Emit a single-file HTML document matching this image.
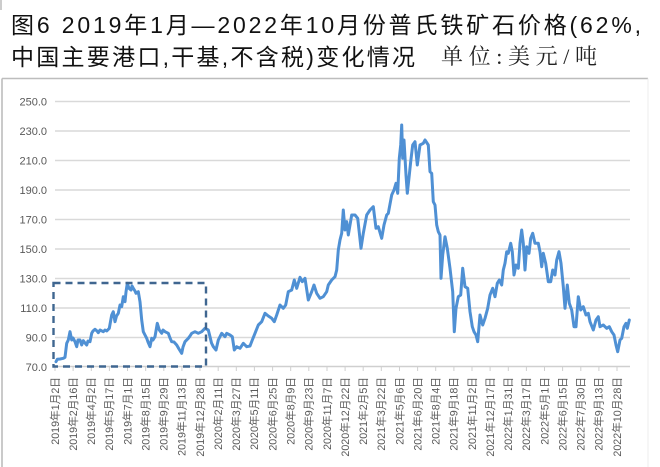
<!DOCTYPE html>
<html>
<head>
<meta charset="utf-8">
<style>
  html,body{margin:0;padding:0;background:#fff;}
  body{width:660px;height:467px;overflow:hidden;}
  svg{display:block;}
  .ttl{font-family:"Liberation Sans","Noto Sans CJK SC",sans-serif;fill:#111;}
  .unit{font-family:"Liberation Serif","Noto Serif CJK SC",serif;fill:#222;}
  .yl{font-family:"Liberation Sans",sans-serif;font-size:11px;fill:#595959;}
  .xl{font-family:"Liberation Sans","Noto Sans CJK SC",sans-serif;font-size:10.7px;fill:#5a5a5a;}
</style>
</head>
<body>
<svg width="660" height="467" viewBox="0 0 660 467" xmlns="http://www.w3.org/2000/svg">
  <rect x="0" y="0" width="660" height="467" fill="#fff"/>
  <line x1="1" y1="0" x2="1" y2="10" stroke="#bbb" stroke-width="1.5"/>

  <!-- Title -->
  <text class="ttl" x="11" y="33" font-size="23" textLength="630" lengthAdjust="spacing">图6 2019年1月—2022年10月份普氏铁矿石价格(62%,</text>
  <text class="ttl" x="11" y="65" font-size="23" textLength="404" lengthAdjust="spacing">中国主要港口,干基,不含税)变化情况</text>
  <text class="unit" x="441" y="64" font-size="22" textLength="156" lengthAdjust="spacing">单位:美元/吨</text>

  <!-- chart frame -->
  <line x1="2" y1="78.5" x2="648" y2="78.5" stroke="#bdbdbd" stroke-width="1.6"/>
  <line x1="2" y1="78.5" x2="2" y2="467" stroke="#bdbdbd" stroke-width="1.6"/>
  <line x1="648" y1="78.5" x2="648" y2="467" stroke="#ececec" stroke-width="1"/>

  <!-- gridlines -->
  <g stroke="#d9d9d9" stroke-width="1.4">
    <line x1="55" y1="101.5" x2="630" y2="101.5"/>
    <line x1="55" y1="131" x2="630" y2="131"/>
    <line x1="55" y1="160.5" x2="630" y2="160.5"/>
    <line x1="55" y1="190" x2="630" y2="190"/>
    <line x1="55" y1="219.5" x2="630" y2="219.5"/>
    <line x1="55" y1="249" x2="630" y2="249"/>
    <line x1="55" y1="278.5" x2="630" y2="278.5"/>
    <line x1="55" y1="308" x2="630" y2="308"/>
    <line x1="55" y1="337.5" x2="630" y2="337.5"/>
  </g>
  <line x1="55" y1="366.5" x2="630" y2="366.5" stroke="#cfcfcf" stroke-width="1.4"/>

  <!-- y labels -->
  <g class="yl" text-anchor="end">
    <text x="47" y="105.5">250.0</text>
    <text x="47" y="135">230.0</text>
    <text x="47" y="164.5">210.0</text>
    <text x="47" y="194">190.0</text>
    <text x="47" y="223.5">170.0</text>
    <text x="47" y="253">150.0</text>
    <text x="47" y="282.5">130.0</text>
    <text x="47" y="312">110.0</text>
    <text x="47" y="341.5">90.0</text>
    <text x="47" y="371">70.0</text>
  </g>

  <!-- ticks -->
  <g stroke="#cfcfcf" stroke-width="1">
    <line x1="55" y1="366.5" x2="55" y2="371"/>
    <line x1="73.1" y1="366.5" x2="73.1" y2="371"/>
    <line x1="91.3" y1="366.5" x2="91.3" y2="371"/>
    <line x1="109.4" y1="366.5" x2="109.4" y2="371"/>
    <line x1="127.5" y1="366.5" x2="127.5" y2="371"/>
    <line x1="145.7" y1="366.5" x2="145.7" y2="371"/>
    <line x1="163.8" y1="366.5" x2="163.8" y2="371"/>
    <line x1="181.9" y1="366.5" x2="181.9" y2="371"/>
    <line x1="200" y1="366.5" x2="200" y2="371"/>
    <line x1="218.2" y1="366.5" x2="218.2" y2="371"/>
    <line x1="236.3" y1="366.5" x2="236.3" y2="371"/>
    <line x1="254.4" y1="366.5" x2="254.4" y2="371"/>
    <line x1="272.6" y1="366.5" x2="272.6" y2="371"/>
    <line x1="290.7" y1="366.5" x2="290.7" y2="371"/>
    <line x1="308.8" y1="366.5" x2="308.8" y2="371"/>
    <line x1="327" y1="366.5" x2="327" y2="371"/>
    <line x1="345.1" y1="366.5" x2="345.1" y2="371"/>
    <line x1="363.2" y1="366.5" x2="363.2" y2="371"/>
    <line x1="381.3" y1="366.5" x2="381.3" y2="371"/>
    <line x1="399.5" y1="366.5" x2="399.5" y2="371"/>
    <line x1="417.6" y1="366.5" x2="417.6" y2="371"/>
    <line x1="435.7" y1="366.5" x2="435.7" y2="371"/>
    <line x1="453.9" y1="366.5" x2="453.9" y2="371"/>
    <line x1="472" y1="366.5" x2="472" y2="371"/>
    <line x1="490.1" y1="366.5" x2="490.1" y2="371"/>
    <line x1="508.3" y1="366.5" x2="508.3" y2="371"/>
    <line x1="526.4" y1="366.5" x2="526.4" y2="371"/>
    <line x1="544.5" y1="366.5" x2="544.5" y2="371"/>
    <line x1="562.6" y1="366.5" x2="562.6" y2="371"/>
    <line x1="580.8" y1="366.5" x2="580.8" y2="371"/>
    <line x1="598.9" y1="366.5" x2="598.9" y2="371"/>
    <line x1="617" y1="366.5" x2="617" y2="371"/>
  </g>

  <!-- x labels (rotated) -->
  <g class="xl" text-anchor="end">
    <text transform="translate(58.8,377) rotate(-90)">2019年1月2日</text>
    <text transform="translate(76.9,377) rotate(-90)">2019年2月16日</text>
    <text transform="translate(95.1,377) rotate(-90)">2019年4月2日</text>
    <text transform="translate(113.2,377) rotate(-90)">2019年5月17日</text>
    <text transform="translate(131.3,377) rotate(-90)">2019年7月1日</text>
    <text transform="translate(149.5,377) rotate(-90)">2019年8月15日</text>
    <text transform="translate(167.6,377) rotate(-90)">2019年9月29日</text>
    <text transform="translate(185.7,377) rotate(-90)">2019年11月13日</text>
    <text transform="translate(203.8,377) rotate(-90)">2019年12月28日</text>
    <text transform="translate(222,377) rotate(-90)">2020年2月11日</text>
    <text transform="translate(240.1,377) rotate(-90)">2020年3月27日</text>
    <text transform="translate(258.2,377) rotate(-90)">2020年5月11日</text>
    <text transform="translate(276.4,377) rotate(-90)">2020年6月25日</text>
    <text transform="translate(294.5,377) rotate(-90)">2020年8月9日</text>
    <text transform="translate(312.6,377) rotate(-90)">2020年9月23日</text>
    <text transform="translate(330.8,377) rotate(-90)">2020年11月7日</text>
    <text transform="translate(348.9,377) rotate(-90)">2020年12月22日</text>
    <text transform="translate(367,377) rotate(-90)">2021年2月5日</text>
    <text transform="translate(385.1,377) rotate(-90)">2021年3月22日</text>
    <text transform="translate(403.3,377) rotate(-90)">2021年5月6日</text>
    <text transform="translate(421.4,377) rotate(-90)">2021年6月20日</text>
    <text transform="translate(439.5,377) rotate(-90)">2021年8月4日</text>
    <text transform="translate(457.7,377) rotate(-90)">2021年9月18日</text>
    <text transform="translate(475.8,377) rotate(-90)">2021年11月2日</text>
    <text transform="translate(493.9,377) rotate(-90)">2021年12月17日</text>
    <text transform="translate(512.1,377) rotate(-90)">2022年1月31日</text>
    <text transform="translate(530.2,377) rotate(-90)">2022年3月17日</text>
    <text transform="translate(548.3,377) rotate(-90)">2022年5月1日</text>
    <text transform="translate(566.4,377) rotate(-90)">2022年6月15日</text>
    <text transform="translate(584.6,377) rotate(-90)">2022年7月30日</text>
    <text transform="translate(602.7,377) rotate(-90)">2022年9月13日</text>
    <text transform="translate(620.8,377) rotate(-90)">2022年10月28日</text>
  </g>

  <!-- data line -->
  <polyline fill="none" stroke="#4f90d4" stroke-width="3" stroke-linejoin="round" stroke-linecap="round" points="
56,361.7 57.3,359.3 60,359 63.3,358.3 65,357.3 66.7,343.3 68.3,340 70,331.7 71.7,340 73,338 75,341.7 76.7,346.7 78,340 80,340 81.7,345 83.3,340.7 85,343 86.7,345 88,341 90,341.7 91.7,333.3 93,331 95,329.3 97,331 98.3,332.7 100,330 103.3,331.7 105,330 106.7,331 109.3,328.3 111.7,315 113.3,311.7 115,321.7 116.5,316 118.3,313.3 120,305 121.7,306.7 123.3,296.7 125,301.7 126,292 127.3,283.3 129,288.3 131,290 132,286 133.3,288.3 135,291 136,293.3 138.3,291.7 140,301.7 141.7,320 143.3,331.7 145,335 146.7,338.3 148,342 150,346.7 151.7,338.3 153,340 155,336.7 157.3,323.3 159.3,330 161.7,333.3 163,330 165,331.7 168.3,333.3 170,338 171.7,341.7 174,342 176.7,345 179,349 181.7,353.3 183,347 185,341.7 188.3,338.3 190,336 191.7,333.3 195,331.7 198.3,333.3 201.7,331.7 205,328.3 208.3,330 210,336.7 211.5,343 213.3,346.7 216,350 218.3,340 221.7,333.3 225,336.7 226.7,333.3 230,335 232.3,336.7 234.3,350 236.7,346.7 240,348.3 243.3,343.3 246.7,346.7 250,346 252.3,340 255,333.3 258.3,325 261.7,321.7 265,313.3 268.3,316 271.7,318.3 274.3,321.7 276.7,315 280,305 283.3,308.3 285.7,305 288.3,291.7 291.7,290 294.3,280 296.7,288.3 300,277.3 302.3,281.7 305,278.3 308.3,300 311.7,291.7 314,285 316.7,293.3 320,298.3 323.3,296.7 326.7,291.7 328.3,285 331.7,280 335,276.7 336.7,270 338.3,250 340,240 341.7,233.3 343.3,210 345,230 346.7,221.7 348.3,235 351.7,215 355,215 357.7,218.3 359,230 361,248.3 363.3,233.3 366.7,215 370,210 373.3,206.7 376,228.3 378.3,226.7 381.7,238.3 384,225 386.7,215 388.3,213.3 391.7,195 394,190 396,183.3 397.7,193.3 399.3,158.3 400.7,145 401.7,125 402.7,158.3 404,140 406,175 407.3,193.3 409.3,175 410.7,161.7 412.7,145 415,141.7 417.3,165 420,145 423.3,143.3 425,140 428.3,145 430,171.7 431.7,173.3 433.3,201.7 435,205 436.7,225 438.3,231.7 440,235 441,278.3 442.7,255 445,236.7 447.3,248.3 450,268.3 452.7,291.7 454.3,331.7 456,308.3 458.3,296.7 460.7,295 462.7,268.3 465,286.7 467.7,288.3 470,311.7 472.3,326.7 474,331.7 476,335 477.7,341.7 480,315 482.7,325 485,318.3 487.7,308.3 490,295 492.7,288.3 495,296.7 497.3,283.3 499.3,280 501.7,285 503.3,270 505,263.3 506.7,251.7 508.3,253.3 510.7,243.3 512.3,251.7 514,275 516,265 518.3,268.3 520,243.3 521.7,230 523.3,243.3 525,270 526.7,246.7 529,253.3 530.7,238.3 532.7,233.3 535,243.3 538.3,243.3 540,251.7 541.7,266.7 543.3,253.3 545.7,263.3 548.3,281.7 550.7,281.7 552.7,270 555,275 556.7,260 559,251.7 561,263.3 563.3,286.7 565,308.3 567.3,285 569.3,303.3 571.7,310 574,326.7 576,326.7 578.3,296.7 580.7,310 583.3,306.7 586,315 588.3,313.3 590,321.7 593.3,330 596,320 598.3,316.7 600,326.7 603.3,325 606.7,328.3 609.3,326.7 611.7,331.7 614,335 616,345 617.7,351.7 620,340 621.7,338.3 624,326.7 626,323.3 627.3,328.3 629.3,320"/>

  <!-- dashed highlight box -->
  <rect x="53.5" y="283" width="152.5" height="83.5" fill="none" stroke="#3f6690" stroke-width="2.4" stroke-dasharray="7 5"/>
</svg>
</body>
</html>
